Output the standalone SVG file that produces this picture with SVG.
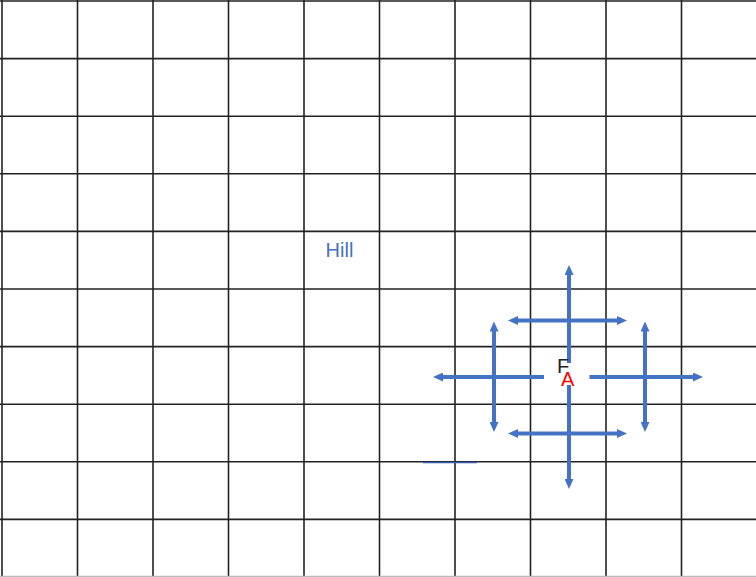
<svg xmlns="http://www.w3.org/2000/svg" width="756" height="577" viewBox="0 0 756 577">
<style>
.grid line{stroke:#222;stroke-width:1.6}
.arr{stroke:#4472C4;stroke-width:4;fill:none}
.lbl{font-family:"Liberation Sans",Arial,sans-serif;font-size:20px}
</style>
<defs>
<marker id="ah" markerUnits="userSpaceOnUse" markerWidth="10" markerHeight="9" refX="2" refY="4.5" orient="auto-start-reverse" viewBox="0 0 10 9">
<path d="M0,0 L10,4.5 L0,9 z" fill="#4472C4"/>
</marker>
</defs>
<rect width="756" height="577" fill="#fff"/>
<g id="grid" class="grid">
<line x1="2" y1="0" x2="2" y2="577"/>
<line x1="77.5" y1="0" x2="77.5" y2="577"/>
<line x1="153" y1="0" x2="153" y2="577"/>
<line x1="228.5" y1="0" x2="228.5" y2="577"/>
<line x1="304" y1="0" x2="304" y2="577"/>
<line x1="379.5" y1="0" x2="379.5" y2="577"/>
<line x1="455" y1="0" x2="455" y2="577"/>
<line x1="530.5" y1="0" x2="530.5" y2="577"/>
<line x1="606" y1="0" x2="606" y2="577"/>
<line x1="681.5" y1="0" x2="681.5" y2="577"/>
<line x1="0" y1="1" x2="756" y2="1"/>
<line x1="0" y1="58.6" x2="756" y2="58.6"/>
<line x1="0" y1="116.2" x2="756" y2="116.2"/>
<line x1="0" y1="173.8" x2="756" y2="173.8"/>
<line x1="0" y1="231.4" x2="756" y2="231.4"/>
<line x1="0" y1="289" x2="756" y2="289"/>
<line x1="0" y1="346.6" x2="756" y2="346.6"/>
<line x1="0" y1="404.2" x2="756" y2="404.2"/>
<line x1="0" y1="461.8" x2="756" y2="461.8"/>
<line x1="0" y1="519.4" x2="756" y2="519.4"/>
<line x1="0" y1="576.5" x2="756" y2="576.5" style="stroke:#bbb"/>
</g>
<g id="connectors">
<path class="arr" d="M569,363 V273" marker-end="url(#ah)"/>
<path class="arr" d="M569,385 V481" marker-end="url(#ah)"/>
<path class="arr" d="M516,320.5 H619" marker-start="url(#ah)" marker-end="url(#ah)"/>
<path class="arr" d="M516,433.5 H619" marker-start="url(#ah)" marker-end="url(#ah)"/>
<path class="arr" d="M494,329.5 V424" marker-start="url(#ah)" marker-end="url(#ah)"/>
<path class="arr" d="M645,329.5 V424" marker-start="url(#ah)" marker-end="url(#ah)"/>
<path class="arr" d="M544,377 H441" marker-end="url(#ah)"/>
<path class="arr" d="M589.5,377 H695" marker-end="url(#ah)"/>
<line x1="423" y1="462.5" x2="477" y2="462.5" stroke="#3A5BA8" stroke-width="1.5"/>
</g>
<g id="hill"><text class="lbl" x="325.5" y="257" fill="#4472C4" textLength="28">Hill</text></g>
<g id="F"><text class="lbl" x="557" y="372.5" fill="#222">F</text></g>
<g id="A"><text class="lbl" x="561" y="385.5" fill="#FF0000">A</text></g>
</svg>
